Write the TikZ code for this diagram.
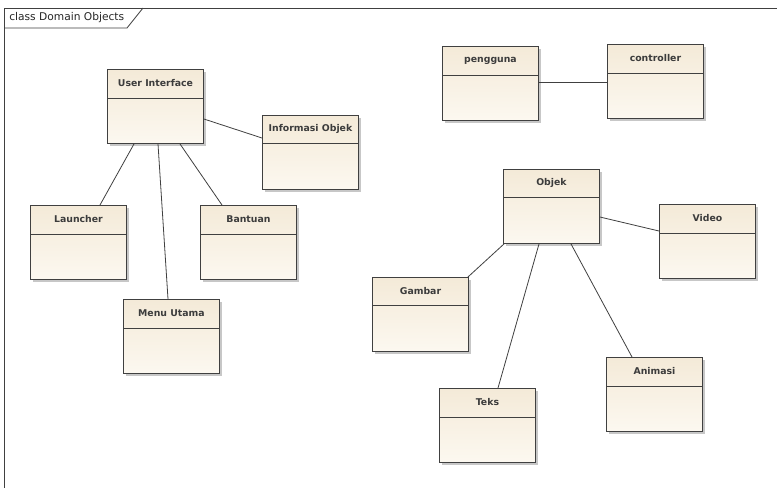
\documentclass[tikz,border=0pt]{standalone}
\usepackage{fontspec}
\setmainfont{DejaVu Sans}
\usetikzlibrary{calc}
\definecolor{edgecol}{RGB}{64,64,64}
\definecolor{textcol}{RGB}{60,60,60}
\definecolor{fillA}{RGB}{244,234,216}
\definecolor{fillB}{RGB}{252,248,240}
\tikzset{
  classbox/.style={draw=edgecol, line width=0.7pt, rectangle, inner sep=0pt,
    anchor=north west, top color=fillA, bottom color=fillB,
    minimum width=72pt, minimum height=55.5pt},
  classtitle/.style={font=\bfseries\fontsize{7}{8}\selectfont, text=textcol, inner sep=0pt},
  boxshadow/.style={fill=black, opacity=0.22},
  assoc/.style={draw=edgecol, line width=0.6pt},
  framestyle/.style={draw=edgecol, line width=0.6pt}
}
% \umlclass{name}{x}{y}{title height}{label}
\newcommand\umlclass[5]{%
  \fill[boxshadow] (#2+3,#3+3) rectangle ++(96,74);
  \node[classbox] (#1) at (#2,#3) {};
  \draw[edgecol, line width=0.6pt] ($(#1.north west)+(0,#4)$) -- ($(#1.north east)+(0,#4)$);
  \node[classtitle] (#1-title) at ($(#1.north)+(0,#4/2)$) {#5};
}
\begin{document}
\begin{tikzpicture}[x=0.75pt, y=-0.75pt]
\useasboundingbox (0,0) rectangle (777,487);
\fill[white] (0,0) rectangle (777,487);

% diagram frame with its name tab
\draw[framestyle] (4,490) -- (4,8) -- (780,8);
\draw[framestyle] (4,28) -- (127,28) -- (143,8);
\node[font=\fontsize{8}{9}\selectfont, text=black!85, anchor=west, inner sep=0pt] (frametitle) at (9,18) {class Domain Objects};

% classes
\umlclass{ui}{107}{69}{29}{User Interface}
\umlclass{info}{262}{115}{28}{Informasi Objek}
\umlclass{launcher}{30}{205}{29}{Launcher}
\umlclass{bantuan}{200}{205}{29}{Bantuan}
\umlclass{menu}{123}{299}{29}{Menu Utama}
\umlclass{pengguna}{442}{46}{29}{pengguna}
\umlclass{controller}{607}{44}{29}{controller}
\umlclass{objek}{503}{169}{28}{Objek}
\umlclass{video}{659}{204}{29}{Video}
\umlclass{gambar}{372}{277}{28}{Gambar}
\umlclass{teks}{439}{388}{29}{Teks}
\umlclass{animasi}{606}{357}{29}{Animasi}

% associations
\draw[assoc] ($(ui.north east)+(0,50)$) -- ($(info.north west)+(0,23)$);
\draw[assoc] ($(ui.south west)+(27,0)$) -- ($(launcher.north west)+(70,0)$);
\draw[assoc] ($(ui.south west)+(51,0)$) -- ($(menu.north west)+(45,0)$);
\draw[assoc] ($(ui.south west)+(73,0)$) -- ($(bantuan.north west)+(22,0)$);
\draw[assoc] ($(pengguna.north east)+(0,36)$) -- ($(controller.north west)+(0,38)$);
\draw[assoc] ($(objek.north east)+(0,48)$) -- ($(video.north west)+(0,27)$);
\draw[assoc] ($(objek.south west)+(1,0)$) -- ($(gambar.north east)+(-1,0)$);
\draw[assoc] ($(objek.south west)+(36,0)$) -- ($(teks.north west)+(59,0)$);
\draw[assoc] ($(objek.south west)+(68,0)$) -- ($(animasi.north west)+(26,0)$);
\end{tikzpicture}
\end{document}
